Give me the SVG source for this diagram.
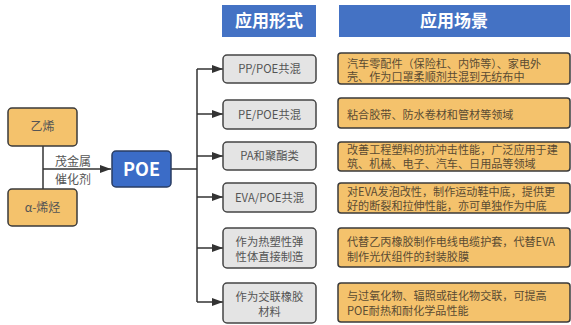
<svg xmlns="http://www.w3.org/2000/svg" width="571" height="325" viewBox="0 0 571 325">
<defs>
<marker id="ah" markerWidth="12" markerHeight="10" refX="11" refY="5" orient="auto" markerUnits="userSpaceOnUse">
<path d="M0,1 L11,5 L0,9 Z" fill="#333"/>
</marker>
<style>
text{font-family:"Noto Sans CJK SC","Liberation Sans",sans-serif;}
.hdr{fill:#4472C4;}
.htxt{fill:#fff;font-size:17px;font-weight:bold;text-anchor:middle;}
.org{fill:#F4C26C;stroke:#3a3a3a;stroke-width:1.5;}
.gry{fill:#E4E4E4;stroke:#444;stroke-width:1.5;}
.gt{fill:#555;font-size:11.3px;text-anchor:middle;}
.ot{fill:#5a4b33;font-size:11.1px;}
.lt{fill:#555;font-size:12px;text-anchor:middle;}
.ln{stroke:#333;stroke-width:1.5;fill:none;}
</style>
</defs>
<rect width="571" height="325" fill="#fff"/>

<g id="header1"><rect class="hdr" x="222" y="5" width="94" height="32"/><text class="htxt" x="269" y="27">应用形式</text></g>
<g id="header2"><rect class="hdr" x="339" y="5" width="231" height="32"/><text class="htxt" x="454" y="27">应用场景</text></g>

<g id="connectors">
<path class="ln" d="M43,146 V189"/>
<path class="ln" d="M43,169 H111" marker-end="url(#ah)"/>
<path class="ln" d="M171,169 H197"/>
<path class="ln" d="M197,69 V302"/>
<path class="ln" d="M197,69 H223" marker-end="url(#ah)"/>
<path class="ln" d="M197,114 H223" marker-end="url(#ah)"/>
<path class="ln" d="M197,156 H223" marker-end="url(#ah)"/>
<path class="ln" d="M197,197 H223" marker-end="url(#ah)"/>
<path class="ln" d="M197,248 H223" marker-end="url(#ah)"/>
<path class="ln" d="M197,302 H223" marker-end="url(#ah)"/>
<text class="lt" x="73" y="166">茂金属</text>
<text class="lt" x="73" y="184">催化剂</text>
</g>

<g id="ethylene"><rect class="org" x="8" y="108" width="69" height="38" rx="4"/><text class="lt" x="42.5" y="131">乙烯</text></g>
<g id="olefin"><rect class="org" x="8" y="189" width="69" height="37" rx="4"/><text class="lt" x="42.5" y="212">α-烯烃</text></g>
<g id="poe"><rect x="112" y="151" width="59" height="36" rx="4" fill="#3B6CC7" stroke="#2a3d63" stroke-width="1.5"/><text x="141.5" y="175.5" fill="#fff" font-size="18" font-weight="bold" text-anchor="middle">POE</text></g>

<g id="form1"><rect class="gry" x="223" y="55" width="93" height="28" rx="4"/><text class="gt" x="269.5" y="73">PP/POE共混</text></g>
<g id="form2"><rect class="gry" x="223" y="100" width="93" height="29" rx="4"/><text class="gt" x="269.5" y="118.5">PE/POE共混</text></g>
<g id="form3"><rect class="gry" x="223" y="142" width="93" height="28" rx="4"/><text class="gt" x="269.5" y="160">PA和聚酯类</text></g>
<g id="form4"><rect class="gry" x="223" y="183" width="93" height="29" rx="4"/><text class="gt" x="269.5" y="201.5">EVA/POE共混</text></g>
<g id="form5"><rect class="gry" x="223" y="228" width="93" height="40" rx="4"/><text class="gt" x="269.5" y="246">作为热塑性弹</text><text class="gt" x="269.5" y="261">性体直接制造</text></g>
<g id="form6"><rect class="gry" x="223" y="283" width="93" height="40" rx="4"/><text class="gt" x="269.5" y="301">作为交联橡胶</text><text class="gt" x="269.5" y="316">材料</text></g>

<g id="scene1"><rect class="org" x="338" y="53" width="232" height="31" rx="3"/><text class="ot" x="347" y="67.5">汽车零配件（保险杠、内饰等）、家电外</text><text class="ot" x="347" y="81">壳、作为口罩柔顺剂共混到无纺布中</text></g>
<g id="scene2"><rect class="org" x="338" y="98" width="232" height="30" rx="3"/><text class="ot" x="347" y="119">粘合胶带、防水卷材和管材等领域</text></g>
<g id="scene3"><rect class="org" x="338" y="142" width="232" height="29" rx="3"/><text class="ot" x="347" y="154">改善工程塑料的抗冲击性能，广泛应用于建</text><text class="ot" x="347" y="167.5">筑、机械、电子、汽车、日用品等领域</text></g>
<g id="scene4"><rect class="org" x="338" y="183" width="232" height="30" rx="3"/><text class="ot" x="347" y="196">对EVA发泡改性，制作运动鞋中底，提供更</text><text class="ot" x="347" y="209.5">好的断裂和拉伸性能，亦可单独作为中底</text></g>
<g id="scene5"><rect class="org" x="338" y="228" width="232" height="39" rx="3"/><text class="ot" x="347" y="246">代替乙丙橡胶制作电线电缆护套，代替EVA</text><text class="ot" x="347" y="260.5">制作光伏组件的封装胶膜</text></g>
<g id="scene6"><rect class="org" x="338" y="283" width="232" height="39" rx="3"/><text class="ot" x="347" y="300">与过氧化物、辐照或硅化物交联，可提高</text><text class="ot" x="347" y="314.5">POE耐热和耐化学品性能</text></g>
</svg>
